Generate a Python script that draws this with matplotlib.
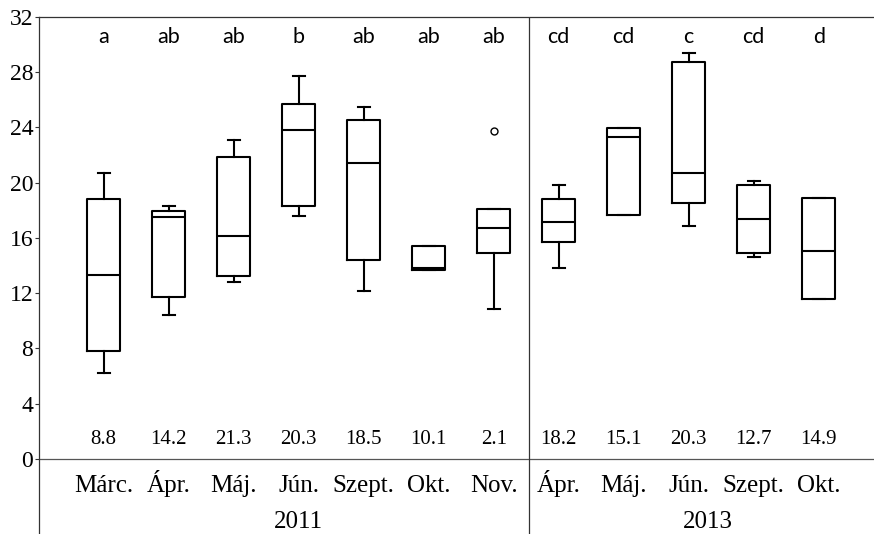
import matplotlib
matplotlib.use("Agg")
import matplotlib.pyplot as plt

# box statistics (2011: 7 months, 2013: 5 months)
months = ["Márc.", "Ápr.", "Máj.", "Jún.", "Szept.", "Okt.", "Nov.",
          "Ápr.", "Máj.", "Jún.", "Szept.", "Okt."]
whis_hi = [20.7, 18.3, 23.1, 27.75, 25.5, 15.42, 18.12,
           19.8, 23.94, 29.42, 20.13, 18.88]
q3 = [18.8, 17.96, 21.85, 25.7, 24.57, 15.42, 18.12,
      18.8, 23.94, 28.72, 19.82, 18.88]
med = [13.3, 17.5, 16.17, 23.8, 21.43, 13.8, 16.75,
       17.18, 23.3, 20.69, 17.38, 15.08]
q1 = [7.8, 11.73, 13.25, 18.3, 14.4, 13.7, 14.9,
      15.69, 17.67, 18.5, 14.9, 11.6]
whis_lo = [6.25, 10.43, 12.8, 17.6, 12.16, 13.7, 10.86,
           13.85, 17.67, 16.9, 14.6, 11.6]
fliers = [[], [], [], [], [], [], [23.75],
          [], [], [], [], []]
letters = ["a", "ab", "ab", "b", "ab", "ab", "ab",
           "cd", "cd", "c", "cd", "d"]
counts = ["8.8", "14.2", "21.3", "20.3", "18.5", "10.1", "2.1",
          "18.2", "15.1", "20.3", "12.7", "14.9"]
years = ["2011", "2013"]
year_pos = [4, 10.3]

fig = plt.figure(figsize=(8.74, 5.34), dpi=100)
ax = fig.add_axes([0.0443, 0.0, 0.9557, 0.9682])

stats = []
for i in range(len(months)):
    stats.append(dict(med=med[i], q1=q1[i], q3=q3[i],
                      whislo=whis_lo[i], whishi=whis_hi[i], fliers=fliers[i]))
pos = list(range(1, len(months) + 1))
lw = 1.5
ax.bxp(stats, positions=pos, widths=0.5, capwidths=0.19,
       boxprops=dict(color="black", linewidth=lw),
       medianprops=dict(color="black", linewidth=lw),
       whiskerprops=dict(color="black", linewidth=lw),
       capprops=dict(color="black", linewidth=lw),
       flierprops=dict(marker="o", markersize=5, markerfacecolor="white",
                       markeredgecolor="black", markeredgewidth=1))

ax.set_xlim(0, 12.85)
ax.set_ylim(-5.43, 32)
ax.set_yticks(range(0, 33, 4))
ax.set_xticks([])
ax.tick_params(axis="y", direction="out", length=3, width=0.8, color="#333333",
               labelsize=17, pad=1)
for lab in ax.get_yticklabels():
    lab.set_fontfamily("Liberation Serif")

for s in ["right", "bottom"]:
    ax.spines[s].set_visible(False)
for s in ["left", "top"]:
    ax.spines[s].set_linewidth(0.9)
    ax.spines[s].set_color("#333333")
ax.axhline(0, color="#555555", linewidth=0.9)
ax.axvline(7.55, color="#333333", linewidth=0.9)

for i, p in enumerate(pos):
    ax.text(p, 30.1, letters[i], ha="center", va="baseline",
            fontsize=15.5, family="Lato")
    ax.text(p, 1.09, counts[i], ha="center", va="baseline",
            fontsize=15, family="Liberation Serif")
    ax.text(p, -2.39, months[i], ha="center", va="baseline",
            fontsize=18, family="Liberation Serif")
for y, xp in zip(years, year_pos):
    ax.text(xp, -5.0, y, ha="center", va="baseline",
            fontsize=18, family="Liberation Serif")

fig.savefig("out.png", dpi=100)
